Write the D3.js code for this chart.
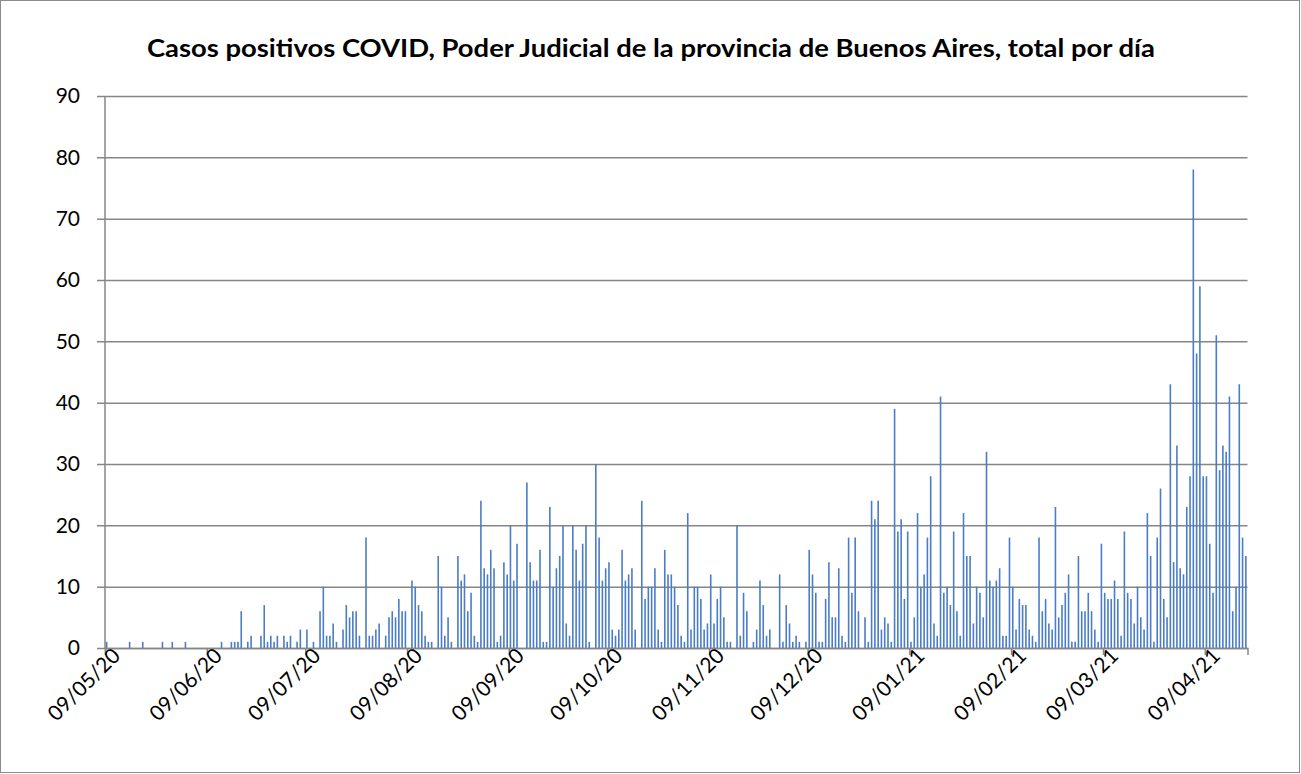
<!DOCTYPE html>
<html>
<head>
<meta charset="utf-8">
<script src="https://cdn.jsdelivr.net/npm/d3@7"></script>
<style>
  body { margin:0; background:#fff; }
  svg { display:block; font-family: Lato, "Open Sans", sans-serif; }
</style>
</head>
<body>
<svg width="1301" height="774"></svg>
<script>
// daily positive cases, one array per axis period (9th to 8th of next month)
var start_date = "2020-05-09";
var casos_may = [1,0,0,0,0,0,0,1,0,0,0,1,0,0,0,0,0,1,0,0,1,0,0,0,1,0,0,0,0,0,0];
var casos_jun = [0,0,0,0,1,0,0,1,1,1,6,0,1,2,0,0,2,7,1,2,1,2,0,2,1,2,0,1,3,0];
var casos_jul = [3,0,1,0,6,10,2,2,4,1,0,3,7,5,6,6,2,0,18,2,2,3,4,0,2,5,6,5,8,6,6];
var casos_ago = [0,11,10,7,6,2,1,1,0,15,10,2,5,1,0,15,11,12,6,9,2,1,24,13,12,16,13,1,2,14,12];
var casos_sep = [20,11,17,0,0,27,14,11,11,16,1,1,23,10,13,15,20,4,2,20,16,11,17,20,1,0,30,18,11,13];
var casos_oct = [14,3,2,3,16,11,12,13,3,0,24,8,10,10,13,3,1,16,12,12,10,7,2,1,22,3,10,10,8,3,4];
var casos_nov = [12,4,8,10,5,1,1,0,20,2,9,6,0,1,3,11,7,2,3,0,0,12,1,7,4,1,2,1,0,1];
var casos_dic = [16,12,9,1,1,8,14,5,5,13,2,1,18,9,18,6,0,5,1,24,21,24,3,5,4,1,39,19,21,8,19];
var casos_ene = [1,5,22,10,12,18,28,4,2,41,9,10,7,19,6,2,22,15,15,4,10,9,5,32,11,10,11,13,2,2,18];
var casos_feb = [10,3,8,7,7,3,2,1,18,6,8,4,3,23,5,7,9,12,1,1,15,6,6,9,6,3,1,17];
var casos_mar = [9,8,8,11,8,2,19,9,8,4,10,5,3,22,15,1,18,26,8,5,43,14,33,13,12,23,28,78,48,59,28];
var casos_abr = [28,17,9,51,29,33,32,41,6,10,43,18,15];

var tick_dates = ["2020-05-09","2020-06-09","2020-07-09","2020-08-09","2020-09-09","2020-10-09",
  "2020-11-09","2020-12-09","2021-01-09","2021-02-09","2021-03-09","2021-04-09"];
var y_ticks = [0,10,20,30,40,50,60,70,80,90];
var titulo = "Casos positivos COVID, Poder Judicial de la provincia de Buenos Aires, total por día";

function draw()
{
  var svg = d3.select("svg");
  var parse = d3.utcParse("%Y-%m-%d");
  var day = 86400000;

  var casos = [].concat(casos_may, casos_jun, casos_jul, casos_ago, casos_sep, casos_oct,
    casos_nov, casos_dic, casos_ene, casos_feb, casos_mar, casos_abr);
  var t0 = parse(start_date);
  var data = casos.map(function(v, i) { return {date: new Date(t0.getTime() + i*day), value: v}; });
  var t1 = new Date(t0.getTime() + casos.length*day);

  var x = d3.scaleUtc().domain([t0, t1]).range([105, 1247.5]);
  var y = d3.scaleLinear().domain([0, 90]).range([648, 96]);

  // chart border
  svg.append("rect")
    .attr("x", 0.5).attr("y", 0.5)
    .attr("width", 1299).attr("height", 772)
    .style("fill", "none").style("stroke", "#8c8c8c").style("stroke-width", 1);

  svg.append("text")
    .attr("x", 651).attr("y", 57)
    .attr("text-anchor", "middle")
    .attr("textLength", 1008).attr("lengthAdjust", "spacingAndGlyphs")
    .style("font-size", "24px").style("font-weight", "bold").style("fill", "#000")
    .text(titulo);

  // y grid + axis
  var yAxis = d3.axisLeft(y).tickValues(y_ticks).tickSize(-(1247.5-105)).tickPadding(25);
  var gy = svg.append("g").attr("transform", "translate(105,0)").call(yAxis);
  gy.select(".domain").remove();
  gy.selectAll(".tick line").attr("x1", -8).style("stroke", "#868686").style("stroke-width", 1.5);
  gy.selectAll(".tick text").style("font-size", "21px").style("fill", "#000").style("font-family", "Lato, sans-serif");

  svg.append("line")
    .attr("x1", 105).attr("x2", 105).attr("y1", 96).attr("y2", 648)
    .style("stroke", "#868686").style("stroke-width", 1.5);

  // bars
  svg.selectAll("line.bar")
    .data(data.filter(function(d) { return d.value > 0; }))
    .enter().append("line")
    .attr("class", "bar")
    .attr("x1", function(d) { return x(new Date(d.date.getTime() + day/2)); })
    .attr("x2", function(d) { return x(new Date(d.date.getTime() + day/2)); })
    .attr("y1", y(0))
    .attr("y2", function(d) { return y(d.value); })
    .style("stroke", "#4a7cc8").style("stroke-width", 1.6);

  // x axis
  var ticks = tick_dates.map(parse);
  var xAxis = d3.axisBottom(x).tickValues(ticks).tickSize(7).tickFormat(d3.utcFormat("%d/%m/%y"));
  var gx = svg.append("g").attr("transform", "translate(0,648)").call(xAxis);
  gx.select(".domain").style("stroke", "#868686").style("stroke-width", 1.5);
  gx.selectAll(".tick line").style("stroke", "#868686").style("stroke-width", 1.5);
  gx.selectAll(".tick text")
    .style("font-size", "21px").style("fill", "#000").style("font-family", "Lato, sans-serif")
    .attr("text-anchor", "end")
    .attr("dy", 0)
    .attr("transform", "translate(9,2) rotate(-45)");
}

draw();
</script>
</body>
</html>
